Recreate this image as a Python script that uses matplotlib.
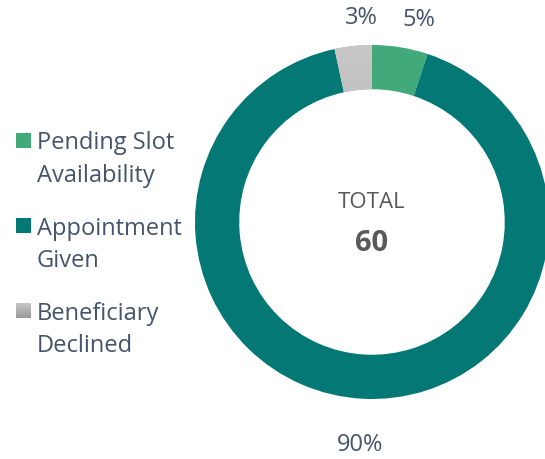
import numpy as np
import matplotlib.pyplot as plt
from matplotlib.patches import Rectangle

categories = ["Pending Slot Availability", "Appointment Given", "Beneficiary Declined"]
legend_lines = [["Pending Slot", "Availability"], ["Appointment", "Given"], ["Beneficiary", "Declined"]]
values = [3, 54, 2]
total = 60
pct_labels = ["5%", "90%", "3%"]

colors = ["#41A97A", "#037875", "#B3B3B3"]
text_color = "#44546A"
center_color = "#595959"

plt.rcParams['font.family'] = ['Open Sans', 'DejaVu Sans']

W, H = 545, 459
fig = plt.figure(figsize=(W / 100, H / 100), dpi=100)

# donut: center (372, 222) px, radius 177 px
cx, cy, r = 372, 222, 177
ax = fig.add_axes([(cx - r) / W, (H - cy - r) / H, 2 * r / W, 2 * r / H])
wedges, _ = ax.pie(values, colors=colors, startangle=90, counterclock=False,
                   radius=1, wedgeprops=dict(width=0.25, linewidth=0))
ax.set_aspect('equal')
ax.axis('off')

# gradient on the grey wedge
grad = np.linspace(0.78, 0.60, 100).reshape(-1, 1)
im = ax.imshow(np.repeat(grad, 2, axis=1), cmap='gray', vmin=0, vmax=1,
               extent=[-1, 1, -1, 1], origin='upper', aspect='auto', zorder=3)
im.set_clip_path(wedges[2])
ax.set_xlim(-1, 1)
ax.set_ylim(-1, 1)

# percentage labels outside the ring
dists = [1.17, 1.26, 1.155]
nudge = [-4, 0, -3]
for w, lab, d, n in zip(wedges, pct_labels, dists, nudge):
    ang = np.deg2rad((w.theta1 + w.theta2) / 2 + n)
    ax.text(d * np.cos(ang), d * np.sin(ang), lab, ha='center', va='center',
            fontsize=17, color=text_color, clip_on=False)

# centre text
ax.text(0, 0.11, "TOTAL", ha='center', va='center', fontsize=16, color=center_color)
ax.text(0, -0.12, str(total), ha='center', va='center', fontsize=21,
        fontweight='bold', color=center_color)

# legend
sq_top = [133, 218, 303]
baselines = [[149, 182], [235, 267], [320, 352]]
for i, lines in enumerate(legend_lines):
    col = colors[i]
    if i == 2:
        gax = fig.add_axes([16 / W, (H - sq_top[i] - 15) / H, 15 / W, 15 / H])
        gax.imshow(np.repeat(grad, 2, axis=1), cmap='gray', vmin=0, vmax=1, aspect='auto')
        gax.axis('off')
    else:
        fig.patches.append(Rectangle((16 / W, (H - sq_top[i] - 15) / H), 15 / W, 15 / H,
                                     transform=fig.transFigure, color=col, linewidth=0))
    for line, b in zip(lines, baselines[i]):
        fig.text(37 / W, (H - b) / H, line, ha='left', va='baseline',
                 fontsize=17, color=text_color)

fig.savefig("out.png", dpi=100)
